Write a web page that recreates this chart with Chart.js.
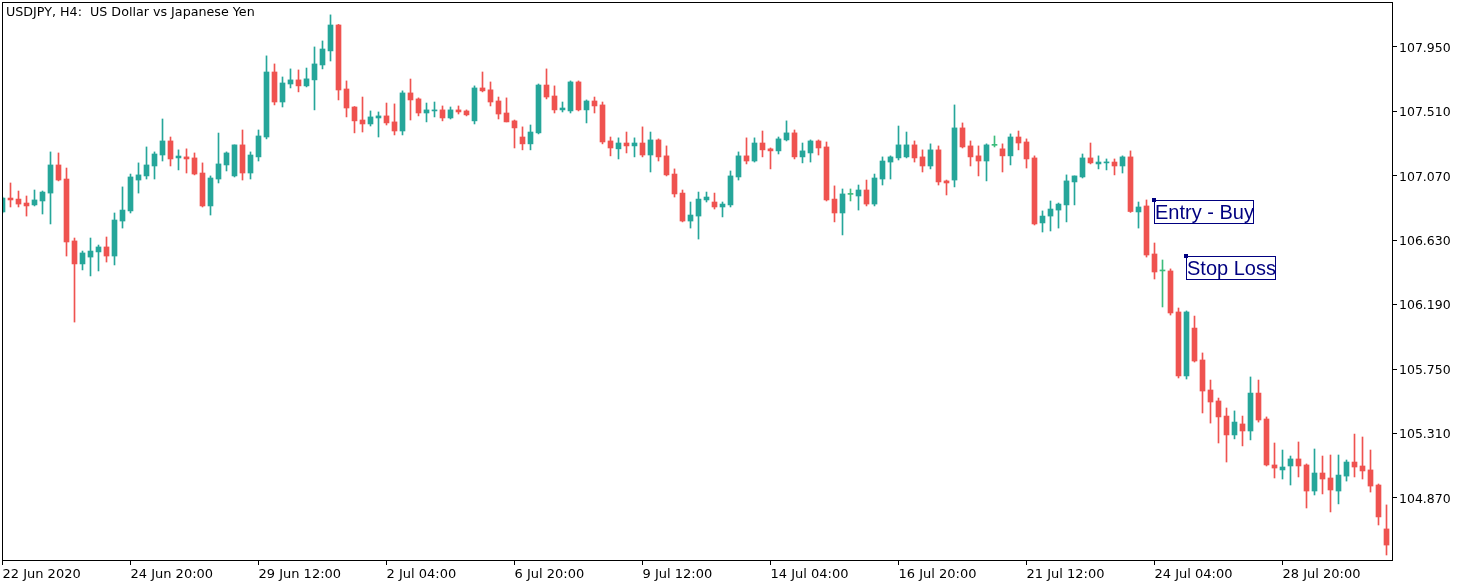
<!DOCTYPE html>
<html>
<head>
<meta charset="utf-8">
<script src="https://cdn.jsdelivr.net/npm/chart.js@4.4.1/dist/chart.umd.min.js"></script>
<style>
  html, body { margin: 0; padding: 0; background: #fff; }
</style>
</head>
<body>
<canvas id="chart" width="1471" height="588"></canvas>
<script>
var title = 'USDJPY, H4:  US Dollar vs Japanese Yen';

// one label every 16 H4 bars
var xTickLabels = ['22 Jun 2020', '24 Jun 20:00', '29 Jun 12:00', '2 Jul 04:00', '6 Jul 20:00',
    '9 Jul 12:00', '14 Jul 04:00', '16 Jul 20:00', '21 Jul 12:00', '24 Jul 04:00', '28 Jul 20:00'];
var yTicks = [104.870, 105.310, 105.750, 106.190, 106.630, 107.070, 107.510, 107.950];

// USDJPY H4 candles
var opens = [
    106.823, 106.918, 106.911, 106.884, 106.871, 106.898, 106.952, 107.144, 107.048, 106.625,
    106.468, 106.515, 106.550, 106.584, 106.522, 106.761, 106.830, 107.041, 107.069, 107.137,
    107.212, 107.308, 107.192, 107.199, 107.192, 107.089, 106.864, 107.048, 107.144, 107.069,
    107.281, 107.089, 107.199, 107.335, 107.779, 107.574, 107.697, 107.725, 107.684, 107.725,
    107.827, 107.923, 108.100, 107.663, 107.540, 107.451, 107.424, 107.465, 107.479, 107.438,
    107.376, 107.636, 107.595, 107.499, 107.513, 107.520, 107.465, 107.520, 107.513, 107.445,
    107.670, 107.657, 107.581, 107.499, 107.445, 107.335, 107.288, 107.363, 107.690, 107.615,
    107.520, 107.513, 107.711, 107.520, 107.581, 107.554, 107.308, 107.254, 107.294, 107.274,
    107.294, 107.212, 107.315, 107.206, 107.082, 106.952, 106.761, 106.795, 106.905, 106.891,
    106.857, 106.871, 107.062, 107.206, 107.171, 107.294, 107.254, 107.240, 107.315, 107.363,
    107.199, 107.226, 107.308, 107.267, 106.911, 106.816, 106.943, 106.932, 106.973, 106.877,
    107.048, 107.164, 107.192, 107.199, 107.281, 107.199, 107.137, 107.247, 107.035, 107.041,
    107.397, 107.274, 107.206, 107.171, 107.278, 107.254, 107.206, 107.335, 107.301, 107.192,
    106.748, 106.795, 106.836, 106.871, 107.028, 107.062, 107.192, 107.151, 107.158, 107.164,
    107.137, 107.199, 106.823, 106.864, 106.536, 106.420, 106.420, 106.140, 105.703, 106.030,
    105.812, 105.607, 105.532, 105.429, 105.300, 105.375, 105.327, 105.586, 105.409, 105.095,
    105.061, 105.088, 105.136, 105.095, 104.917, 105.040, 105.006, 104.917, 105.019, 105.115,
    105.088, 105.061, 104.958, 104.658
];
var highs = [
    106.925, 107.021, 106.966, 106.932, 106.973, 106.966, 107.233, 107.226, 107.123, 106.645,
    106.556, 106.645, 106.597, 106.652, 106.816, 106.994, 107.082, 107.158, 107.267, 107.233,
    107.458, 107.335, 107.247, 107.254, 107.226, 107.158, 107.069, 107.362, 107.233, 107.281,
    107.383, 107.233, 107.383, 107.889, 107.834, 107.745, 107.800, 107.793, 107.806, 107.950,
    107.991, 108.169, 108.104, 107.718, 107.543, 107.608, 107.513, 107.506, 107.567, 107.561,
    107.650, 107.731, 107.602, 107.567, 107.574, 107.547, 107.540, 107.547, 107.520, 107.684,
    107.779, 107.711, 107.608, 107.602, 107.451, 107.404, 107.417, 107.697, 107.800, 107.684,
    107.574, 107.718, 107.718, 107.588, 107.608, 107.574, 107.335, 107.329, 107.369, 107.329,
    107.404, 107.369, 107.322, 107.274, 107.117, 106.973, 106.891, 106.959, 106.959, 106.952,
    106.891, 107.103, 107.233, 107.329, 107.329, 107.376, 107.260, 107.335, 107.445, 107.383,
    107.294, 107.315, 107.315, 107.301, 107.001, 106.980, 106.980, 107.007, 107.041, 107.082,
    107.199, 107.206, 107.410, 107.369, 107.308, 107.247, 107.288, 107.274, 107.041, 107.554,
    107.431, 107.308, 107.274, 107.288, 107.342, 107.288, 107.356, 107.376, 107.322, 107.206,
    106.830, 106.898, 106.884, 107.076, 107.069, 107.219, 107.294, 107.206, 107.185, 107.185,
    107.206, 107.240, 106.891, 106.905, 106.611, 106.495, 106.434, 106.167, 106.147, 106.112,
    105.860, 105.675, 105.552, 105.484, 105.464, 105.429, 105.696, 105.675, 105.423, 105.245,
    105.197, 105.156, 105.252, 105.102, 105.204, 105.156, 105.163, 105.163, 105.129, 105.306,
    105.286, 105.197, 104.965, 104.822
];
var lows = [
    106.816, 106.857, 106.857, 106.795, 106.864, 106.809, 106.741, 107.035, 106.522, 106.071,
    106.427, 106.386, 106.420, 106.481, 106.461, 106.713, 106.816, 106.952, 107.048, 107.048,
    107.171, 107.137, 107.110, 107.089, 107.076, 106.857, 106.802, 107.021, 107.103, 107.062,
    107.041, 107.048, 107.171, 107.322, 107.554, 107.540, 107.670, 107.643, 107.677, 107.520,
    107.800, 107.854, 107.588, 107.472, 107.363, 107.369, 107.410, 107.335, 107.417, 107.349,
    107.349, 107.451, 107.479, 107.438, 107.472, 107.445, 107.458, 107.492, 107.479, 107.424,
    107.643, 107.547, 107.458, 107.438, 107.260, 107.247, 107.247, 107.356, 107.595, 107.499,
    107.506, 107.499, 107.513, 107.431, 107.499, 107.288, 107.206, 107.185, 107.226, 107.199,
    107.199, 107.096, 107.171, 107.069, 106.925, 106.755, 106.713, 106.638, 106.891, 106.843,
    106.789, 106.857, 107.041, 107.151, 107.164, 107.199, 107.117, 107.219, 107.308, 107.185,
    107.158, 107.164, 107.212, 106.898, 106.755, 106.666, 106.898, 106.836, 106.864, 106.864,
    107.007, 107.048, 107.178, 107.192, 107.164, 107.096, 107.117, 107.007, 106.939, 106.994,
    107.260, 107.137, 107.069, 107.035, 107.267, 107.096, 107.144, 107.247, 107.123, 106.734,
    106.686, 106.693, 106.713, 106.755, 106.871, 107.055, 107.151, 107.117, 107.110, 107.076,
    107.089, 106.820, 106.713, 106.515, 106.365, 106.174, 106.119, 105.689, 105.682, 105.798,
    105.450, 105.381, 105.245, 105.115, 105.273, 105.225, 105.266, 105.388, 105.088, 105.006,
    104.999, 104.958, 105.013, 104.801, 104.890, 104.897, 104.774, 104.829, 104.985, 105.013,
    104.999, 104.910, 104.685, 104.480
];
var closes = [
    106.918, 106.905, 106.877, 106.864, 106.905, 106.959, 107.144, 107.041, 106.618, 106.468,
    106.543, 106.556, 106.584, 106.522, 106.768, 106.836, 107.062, 107.076, 107.144, 107.219,
    107.308, 107.185, 107.205, 107.185, 107.082, 106.864, 107.055, 107.151, 107.226, 107.281,
    107.089, 107.212, 107.342, 107.779, 107.574, 107.704, 107.725, 107.684, 107.732, 107.834,
    107.936, 108.100, 107.656, 107.533, 107.445, 107.424, 107.472, 107.479, 107.431, 107.376,
    107.636, 107.588, 107.499, 107.520, 107.520, 107.465, 107.520, 107.506, 107.486, 107.670,
    107.650, 107.574, 107.492, 107.438, 107.397, 107.288, 107.369, 107.690, 107.608, 107.520,
    107.533, 107.711, 107.520, 107.581, 107.547, 107.301, 107.260, 107.294, 107.274, 107.294,
    107.212, 107.315, 107.199, 107.076, 106.946, 106.761, 106.802, 106.911, 106.925, 106.857,
    106.877, 107.069, 107.206, 107.171, 107.294, 107.247, 107.240, 107.322, 107.363, 107.199,
    107.240, 107.308, 107.260, 106.905, 106.816, 106.946, 106.943, 106.973, 106.877, 107.055,
    107.171, 107.199, 107.281, 107.281, 107.192, 107.137, 107.247, 107.028, 107.021, 107.397,
    107.267, 107.199, 107.171, 107.281, 107.278, 107.206, 107.335, 107.294, 107.185, 106.741,
    106.795, 106.843, 106.877, 107.035, 107.069, 107.192, 107.158, 107.164, 107.164, 107.137,
    107.199, 106.826, 106.857, 106.529, 106.413, 106.420, 106.133, 105.703, 106.140, 105.805,
    105.600, 105.525, 105.423, 105.300, 105.388, 105.327, 105.586, 105.402, 105.095, 105.074,
    105.081, 105.136, 105.088, 104.917, 105.040, 104.999, 104.924, 105.026, 105.115, 105.081,
    105.054, 104.951, 104.740, 104.548
];

// text labels placed on the chart
var noteText = ['Entry - Buy', 'Stop Loss'];
var noteBar = [144, 148];
var notePrice = [106.905, 106.522];

var UP = '#26a69a', DOWN = '#ef5350', FLAT = '#3dbd7d', NAVY = '#000080';
var FONT = 'DejaVu Sans';

var idx = opens.map(function(o, i) { return i; });
var colors = idx.map(function(i) {
    if (closes[i] > opens[i]) return UP;
    if (closes[i] < opens[i]) return DOWN;
    return FLAT;
});
var wicks = idx.map(function(i) { return {x: i, y: [lows[i], highs[i]]}; });
var bodies = idx.map(function(i) { return {x: i, y: [opens[i], closes[i]]}; });

var overlay = {
    id: 'overlay',
    afterDraw: function(chart) {
        var ctx = chart.ctx, a = chart.chartArea;
        var xs = chart.scales.x, ys = chart.scales.y;
        ctx.save();
        // frame
        ctx.strokeStyle = '#000';
        ctx.lineWidth = 1;
        ctx.strokeRect(a.left + 0.5, a.top + 0.5, a.right - a.left - 1, a.bottom - a.top - 1);
        // title
        ctx.fillStyle = '#000';
        ctx.font = '12.7px "' + FONT + '"';
        ctx.textBaseline = 'middle';
        ctx.fillText(title, 6, 13);
        // notes
        ctx.font = '20px "Liberation Sans"';
        ctx.textBaseline = 'alphabetic';
        noteText.forEach(function(t, i) {
            var px = Math.floor(xs.getPixelForValue(noteBar[i]));
            var py = Math.round(ys.getPixelForValue(notePrice[i]));
            var w = Math.ceil(ctx.measureText(t).width);
            ctx.strokeStyle = NAVY;
            ctx.fillStyle = NAVY;
            ctx.strokeRect(px + 0.5, py + 0.5, w, 23);
            ctx.fillText(t, px + 1, py + 19);
            ctx.fillRect(px - 2, py - 2, 4, 4);
        });
        ctx.restore();
    }
};

var chart = new Chart(document.getElementById('chart'), {
    type: 'bar',
    data: {
        datasets: [
            {data: wicks, backgroundColor: colors, barThickness: 1, grouped: false},
            {data: bodies, backgroundColor: colors, barThickness: 5, grouped: false, minBarLength: 1}
        ]
    },
    options: {
        responsive: false,
        animation: false,
        layout: {padding: {left: 2, top: 2, right: 0, bottom: 0}},
        plugins: {legend: {display: false}, tooltip: {enabled: false}},
        scales: {
            x: {
                type: 'linear',
                offset: false,
                min: -0.0625,
                max: 173.8125,
                grid: {offset: false, drawOnChartArea: false, drawTicks: true, tickLength: 4, color: '#000'},
                border: {display: false},
                afterBuildTicks: function(s) {
                    s.ticks = xTickLabels.map(function(t, i) { return {value: i * 16}; });
                },
                afterFit: function(s) {
                    s.height = 27;
                    s.paddingLeft = 0;
                    s.paddingRight = 0;
                },
                ticks: {
                    autoSkip: false, maxRotation: 0, align: 'start', padding: 2, color: '#000',
                    font: {family: FONT, size: 13},
                    callback: function(v, i) { return xTickLabels[i]; }
                }
            },
            y: {
                position: 'right',
                min: 104.439,
                max: 108.257,
                grid: {drawOnChartArea: false, drawTicks: true, tickLength: 4, color: '#000'},
                border: {display: false},
                afterBuildTicks: function(s) {
                    s.ticks = yTicks.map(function(v) { return {value: v}; });
                },
                afterFit: function(s) {
                    s.width = 78;
                    s.paddingTop = 0;
                    s.paddingBottom = 0;
                },
                ticks: {
                    padding: 2, color: '#000', labelOffset: 1.5,
                    font: {family: FONT, size: 12.5},
                    callback: function(v) { return v.toFixed(3); }
                }
            }
        }
    },
    plugins: [overlay]
});
</script>
</body>
</html>
